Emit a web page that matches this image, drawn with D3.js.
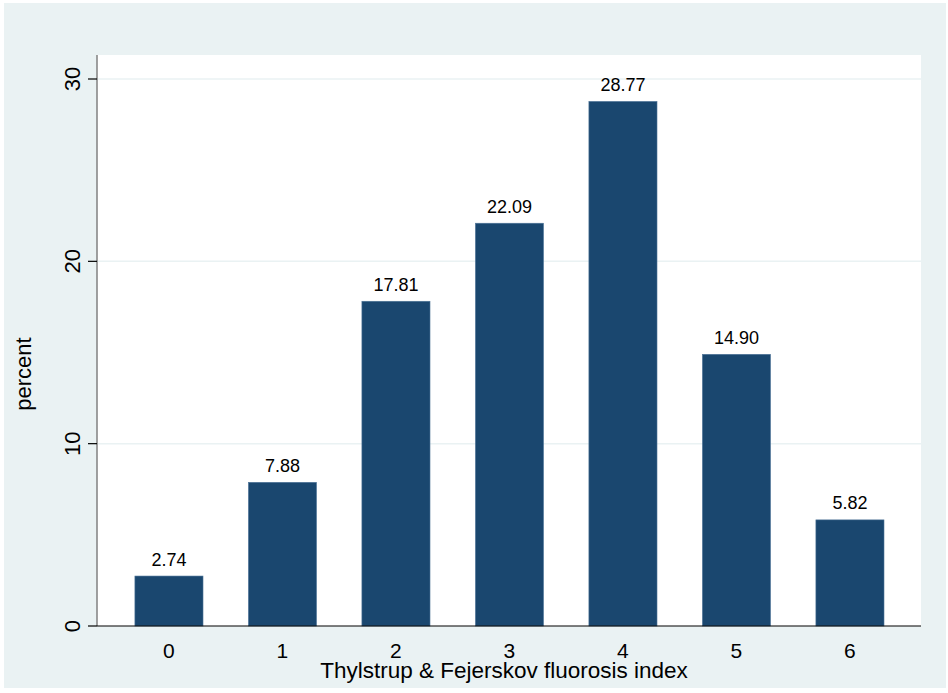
<!DOCTYPE html>
<html>
<head>
<meta charset="utf-8">
<script src="https://cdn.jsdelivr.net/npm/d3@7"></script>
<style>
  body { margin: 0; background: #fff; }
  text { font-family: "Liberation Sans", Arial, sans-serif; fill: #000; }
</style>
</head>
<body>
<div id="chart"></div>
<script>
const width = 948
const height = 693

const categories = [0, 1, 2, 3, 4, 5, 6]
const percents = [2.74, 7.88, 17.81, 22.09, 28.77, 14.90, 5.82]
const yTicks = [0, 10, 20, 30]

const plot = { left: 97, right: 921, top: 55, bottom: 626 }

const svg = d3.select("div#chart").append("svg").attr("width", width).attr("height", height)

// outer grey-blue background
svg.append("rect").attr("x", 4).attr("y", 3).attr("width", 942).attr("height", 685).attr("fill", "#eaf2f3")
// plot region
svg.append("rect").attr("x", plot.left).attr("y", plot.top)
    .attr("width", plot.right - plot.left).attr("height", plot.bottom - plot.top).attr("fill", "#fff")

const x = d3.scaleLinear().domain([-0.634, 6.626]).range([plot.left, plot.right])
const y = d3.scaleLinear().domain([0, 30]).range([plot.bottom, 79])
const barW = 0.6

// gridlines
svg.append("g").selectAll("line").data(yTicks.filter(d => d > 0)).enter().append("line")
    .attr("x1", plot.left).attr("x2", plot.right)
    .attr("y1", d => y(d)).attr("y2", d => y(d))
    .attr("stroke", "#eaf2f3").attr("stroke-width", 1.5)

// bars
svg.append("g").selectAll("rect").data(categories).enter().append("rect")
    .attr("x", (d, i) => x(d - barW / 2))
    .attr("width", x(barW) - x(0))
    .attr("y", (d, i) => y(percents[i]))
    .attr("height", (d, i) => y(0) - y(percents[i]))
    .attr("fill", "#1a476f")
    .attr("stroke", "#4f7598").attr("stroke-width", 0.6)

// value labels
svg.append("g").selectAll("text").data(categories).enter().append("text")
    .attr("x", d => x(d))
    .attr("y", (d, i) => y(percents[i]) - 10.5)
    .attr("text-anchor", "middle")
    .style("font-size", "18px")
    .text((d, i) => percents[i].toFixed(2))

// y axis
const yAxisGroup = svg.append("g").attr("transform", `translate(${plot.left}, 0)`)
yAxisGroup.append("line").attr("x1", 0).attr("x2", 0).attr("y1", plot.top).attr("y2", plot.bottom)
    .attr("stroke", "#808080").attr("stroke-width", 1.5)
yAxisGroup.selectAll("line.tick").data(yTicks).enter().append("line").attr("class", "tick")
    .attr("x1", -9).attr("x2", 0).attr("y1", d => y(d)).attr("y2", d => y(d))
    .attr("stroke", "#000").attr("stroke-width", 1.2)
yAxisGroup.selectAll("text").data(yTicks).enter().append("text")
    .attr("transform", d => `translate(-17, ${y(d)}) rotate(-90)`)
    .attr("text-anchor", "middle")
    .style("font-size", "22px")
    .text(d => d)

// x axis
svg.append("line").attr("x1", plot.left).attr("x2", plot.right).attr("y1", plot.bottom).attr("y2", plot.bottom)
    .attr("stroke", "#000").attr("stroke-width", 1.2)
svg.append("g").selectAll("text").data(categories).enter().append("text")
    .attr("x", d => x(d)).attr("y", 658)
    .attr("text-anchor", "middle")
    .style("font-size", "21px")
    .text(d => d)

// axis titles
svg.append("text").attr("x", 504).attr("y", 678)
    .attr("text-anchor", "middle").style("font-size", "22.5px")
    .text("Thylstrup & Fejerskov fluorosis index")
svg.append("text").attr("transform", `translate(31, 374) rotate(-90)`)
    .attr("text-anchor", "middle").style("font-size", "22px")
    .text("percent")
</script>
</body>
</html>
